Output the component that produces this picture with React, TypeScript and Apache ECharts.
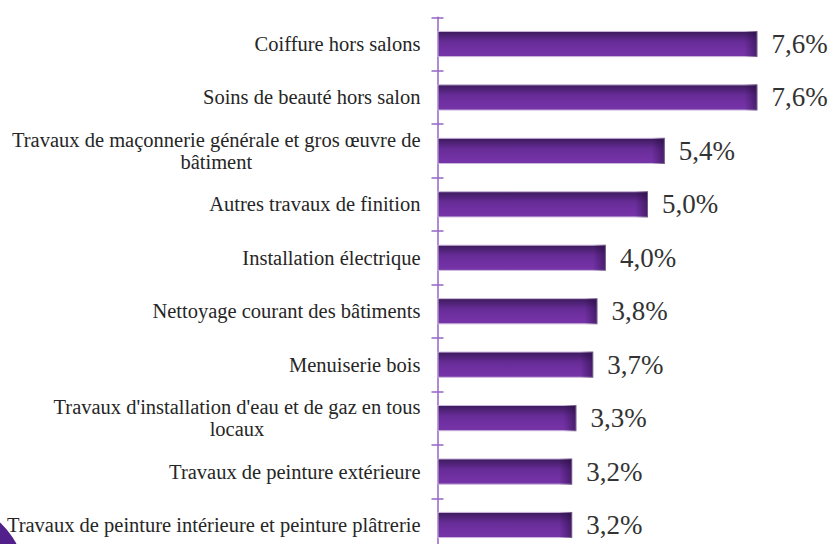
import React, { useEffect, useRef } from "react";
import * as echarts from "echarts";

const categories = [
  "Coiffure hors salons",
  "Soins de beauté hors salon",
  "Travaux de maçonnerie générale et gros œuvre de\nbâtiment",
  "Autres travaux de finition",
  "Installation électrique",
  "Nettoyage courant des bâtiments",
  "Menuiserie bois",
  "Travaux d'installation d'eau et de gaz en tous\nlocaux",
  "Travaux de peinture extérieure",
  "Travaux de peinture intérieure et peinture plâtrerie",
];
const values = [7.6, 7.6, 5.4, 5.0, 4.0, 3.8, 3.7, 3.3, 3.2, 3.2];

export default function App() {
  const ref = useRef<HTMLDivElement>(null);
  useEffect(() => {
    if (!ref.current) return;
    const chart = echarts.init(ref.current, null, { renderer: "svg" });
    const font = "Liberation Serif";
    const fontSize = 20.5;
    const gridWidth = 421;
    const xMax = 10;

    // measure real text widths so wrapped second lines sit centred under the first
    const cv = document.createElement("canvas");
    const ctx = cv.getContext("2d")!;
    ctx.font = `${fontSize}px "${font}"`;
    const base = { align: "right", fontFamily: font, fontSize, lineHeight: 22, color: "#262626" };
    const rich: Record<string, any> = { r: { ...base } };
    categories.forEach((cat, i) => {
      const lines = cat.split("\n");
      if (lines.length > 1) {
        const w1 = ctx.measureText(lines[0]).width;
        const w2 = ctx.measureText(lines[1]).width;
        rich["s" + i] = { ...base, padding: [0, Math.max(0, (w1 - w2) / 2), 0, 0] };
      }
    });

    const shadeData = values.map((v) => {
      const px = (v / xMax) * gridWidth;
      const o = Math.max(0, 1 - 13 / px);
      return {
        value: v,
        itemStyle: {
          color: new echarts.graphic.LinearGradient(1, 0, 0, 0, [
            { offset: 0, color: "rgba(35,10,60,0.55)" },
            { offset: 1 - o, color: "rgba(35,10,60,0)" },
            { offset: 1, color: "rgba(35,10,60,0)" },
          ]),
        },
      };
    });
    chart.setOption({
      animation: false,
      backgroundColor: "#ffffff",
      grid: {
        left: 437.5,
        top: 17.3,
        width: gridWidth,
        height: 534.4,
        outerBoundsMode: "none",
        containLabel: false,
      },
      xAxis: {
        type: "value",
        min: 0,
        max: xMax,
        show: false,
      },
      yAxis: [
        {
          type: "category",
          inverse: true,
          data: categories,
          axisLine: { show: true, lineStyle: { color: "#9464c8", width: 1.5 } },
          axisTick: { show: true, length: 6, lineStyle: { color: "#9464c8", width: 1.5 } },
          axisLabel: {
            margin: 17,
            fontFamily: font,
            fontSize,
            color: "#262626",
            formatter: (v: string) => {
              const i = categories.indexOf(v);
              const lines = v.split("\n");
              if (lines.length === 1) return "{r|" + v + "}";
              return "{r|" + lines[0] + "}\n{s" + i + "|" + lines[1] + "}";
            },
            rich,
          },
          splitLine: { show: false },
        },
        {
          type: "category",
          inverse: true,
          position: "left",
          data: categories,
          axisLine: { show: false },
          axisTick: { show: true, inside: true, length: 6, lineStyle: { color: "#9464c8", width: 1.5 } },
          axisLabel: { show: false },
        },
      ],
      series: [
        {
          type: "bar",
          yAxisIndex: 0,
          data: values,
          barWidth: "49%",
          itemStyle: {
            color: new echarts.graphic.LinearGradient(0, 0, 0, 1, [
              { offset: 0, color: "#3c1a5c" },
              { offset: 0.4, color: "#662c96" },
              { offset: 0.7, color: "#7130a2" },
              { offset: 1, color: "#7535a8" },
            ]),
            borderColor: "#cbb6dc",
            borderWidth: 1,
          },
          label: {
            show: true,
            position: "right",
            distance: 14,
            fontFamily: font,
            fontSize: 27,
            color: "#333333",
            formatter: (p: any) => p.value.toFixed(1).replace(".", ",") + "%",
          },
          z: 2,
        },
        {
          type: "bar",
          yAxisIndex: 0,
          data: shadeData,
          barWidth: "49%",
          barGap: "-100%",
          silent: true,
          label: { show: false },
          z: 3,
        },
      ],
      graphic: [
        {
          type: "circle",
          shape: { cx: -55, cy: 582, r: 81 },
          style: { fill: "#52208a" },
          z: 10,
        },
      ],
    });
    return () => chart.dispose();
  }, []);
  return (
    <div
      ref={ref}
      style={{ position: "absolute", left: 0, top: 0, width: 832, height: 544 }}
    />
  );
}
